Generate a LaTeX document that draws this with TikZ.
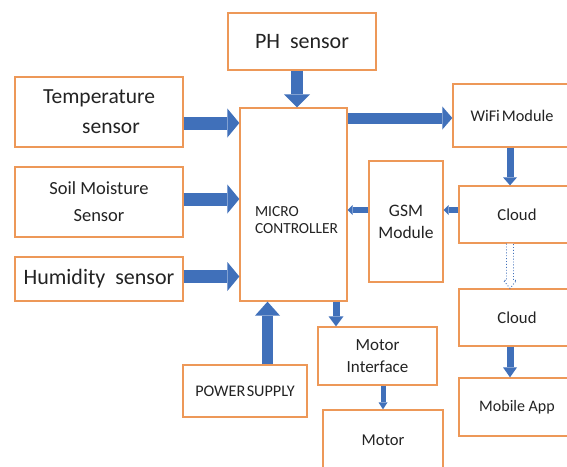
\documentclass[tikz,border=0pt]{standalone}
\usepackage{fontspec}
\setmainfont{Carlito}
\usetikzlibrary{arrows.meta,calc}
\definecolor{boxor}{RGB}{237,152,88}
\definecolor{arrblue}{RGB}{64,112,186}
\definecolor{txt}{RGB}{35,35,35}
\tikzset{
  box/.style={draw=boxor, line width=1.3pt, fill=white, rectangle, inner sep=0pt, text=txt, align=center},
  blk/.style n args={3}{draw=arrblue, line width=#1, -{Triangle[width=#2, length=#3, line width=0pt]}},
}
\begin{document}
\begin{tikzpicture}[x=1pt,y=-1pt]
\useasboundingbox (0,0) rectangle (567,466);
\clip (0,0) rectangle (567,466);
\fill[white] (0,0) rectangle (567,466);
% boxes
\node[box, minimum width=148, minimum height=57, font=\fontsize{22}{28}\selectfont] (ph) at (302,41.5) {PH\ \ sensor};
\node[box, minimum width=168, minimum height=70, font=\fontsize{21.5}{30}\selectfont] (temp) at (99,112) {Temperature\\\hspace*{24pt}sensor};
\node[box, minimum width=168, minimum height=70, font=\fontsize{18.5}{27}\selectfont] (soil) at (99,202) {Soil Moisture\\Sensor};
\node[box, minimum width=168, minimum height=44, font=\fontsize{22}{28}\selectfont] (hum) at (99,279) {Humidity\ \ sensor};
\node[box, minimum width=107, minimum height=193] (mc) at (293.5,204.5) {};
\node[align=left, text=txt, inner sep=0pt, font=\fontsize{15.4}{16.5}\selectfont] (mctext) at ($(mc.center)+(3,15.5)$) {MICRO\\CONTROLLER};
\node[box, minimum width=118, minimum height=63, font=\fontsize{16.3}{20}\selectfont] (wifi) at (512,115.5) {WiFi\hspace{2pt}Module};
\node[box, minimum width=116, minimum height=57, font=\fontsize{16.7}{20}\selectfont] (cloud1) at (517,214.5) {Cloud};
\node[box, minimum width=74, minimum height=121, font=\fontsize{17.5}{22}\selectfont] (gsm) at (406,221.5) {GSM\\Module};
\node[box, minimum width=116, minimum height=57, font=\fontsize{16.7}{20}\selectfont] (cloud2) at (517,317.5) {Cloud};
\node[box, minimum width=116, minimum height=58, font=\fontsize{16}{20}\selectfont] (mobile) at (517,407) {Mobile App};
\node[box, minimum width=119, minimum height=58, font=\fontsize{17}{22}\selectfont] (motorif) at (377.5,356) {Motor\\Interface};
\node[box, minimum width=120, minimum height=60, font=\fontsize{16.6}{20}\selectfont] (motor) at (383,440) {Motor};
\node[box, minimum width=124, minimum height=52, font=\fontsize{16.2}{20}\selectfont] (power) at (245,391) {POWER\hspace{1.5pt}SUPPLY};
% arrows
\coordinate (a1) at ([xshift=-5pt]ph.south);
\draw[blk={12pt}{26pt}{13pt}] (a1) -- (a1 |- mc.north);
\coordinate (a2) at ([yshift=-11pt]temp.east);
\draw[blk={13pt}{29pt}{12pt}] (a2) -- (a2 -| mc.west);
\coordinate (a3) at ([yshift=3pt]soil.east);
\draw[blk={13pt}{29pt}{12pt}] (a3) -- (a3 -| mc.west);
\coordinate (a4) at ([yshift=2.5pt]hum.east);
\draw[blk={13pt}{29pt}{12pt}] (a4) -- (a4 -| mc.west);
\coordinate (a5) at ([yshift=-2.5pt]wifi.west);
\draw[blk={11pt}{23pt}{10pt}] (a5 -| mc.east) -- (a5);
\coordinate (a6) at ([xshift=-2pt]wifi.south);
\draw[blk={7pt}{14pt}{8pt}] (a6) -- (a6 |- cloud1.north);
\coordinate (a7) at ([yshift=4.5pt]cloud1.west);
\draw[blk={6pt}{10pt}{5pt}] (a7) -- (a7 -| gsm.east);
\coordinate (a8) at (a7 -| gsm.west);
\draw[blk={6pt}{10pt}{5pt}] (a8) -- (a8 -| mc.east);
\coordinate (d1) at ([xshift=-7pt]cloud1.south);
\coordinate (d2) at (d1 |- cloud2.north);
\draw[arrblue, dotted, line width=0.9pt, fill=white]
  ($(d1)+(-3.5,0)$) -- ($(d2)+(-3.5,-8)$) -- ($(d2)+(-6.5,-8)$) -- (d2)
  -- ($(d2)+(6.5,-8)$) -- ($(d2)+(3.5,-8)$) -- ($(d1)+(3.5,0)$);
\coordinate (a9) at ([xshift=-7pt]cloud2.south);
\draw[blk={7pt}{14pt}{10pt}] (a9) -- (a9 |- mobile.north);
\coordinate (a10) at ([xshift=-41.5pt]motorif.north);
\draw[blk={7pt}{15pt}{10pt}] (a10 |- mc.south) -- (a10);
\coordinate (a11) at ([xshift=5.5pt]motorif.south);
\draw[blk={5pt}{9pt}{7pt}] (a11) -- (a11 |- motor.north);
\coordinate (a12) at ([xshift=22.5pt]power.north);
\draw[blk={11pt}{25pt}{14pt}] (a12) -- (a12 |- mc.south);
\end{tikzpicture}
\end{document}
